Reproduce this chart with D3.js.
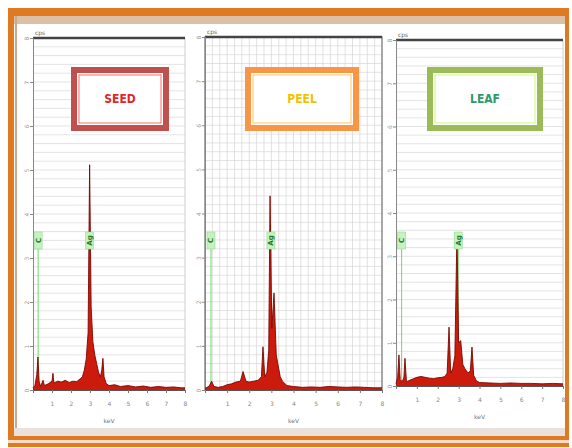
<!DOCTYPE html>
<html>
<head>
<meta charset="utf-8">
<script src="https://cdn.jsdelivr.net/npm/d3@7"></script>
<style>
  body { margin: 0; background: #fff; }
  svg { display: block; }
</style>
</head>
<body>
<svg width="572" height="448"></svg>
<script>
// spectra (energy in keV, counts in kcps)
var seedKeV = [0, 0.1, 0.2, 0.26, 0.32, 0.4, 0.53, 0.6, 0.8, 1.0, 1.05, 1.1, 1.3, 1.5, 1.7, 1.9, 2.1, 2.3, 2.5, 2.6, 2.7, 2.8, 2.9, 2.98, 3.06, 3.15, 3.25, 3.35, 3.45, 3.55, 3.62, 3.68, 3.74, 3.85, 4.0, 4.3, 4.6, 5.0, 5.4, 5.8, 6.2, 6.6, 7.0, 7.4, 7.8, 8.0];
var seedCounts = [0.05, 0.1, 0.35, 0.75, 0.2, 0.08, 0.22, 0.1, 0.14, 0.2, 0.38, 0.16, 0.2, 0.18, 0.22, 0.17, 0.2, 0.19, 0.26, 0.3, 0.45, 0.7, 1.3, 5.12, 1.9, 1.1, 0.8, 0.6, 0.4, 0.3, 0.45, 0.72, 0.3, 0.15, 0.1, 0.12, 0.08, 0.1, 0.07, 0.09, 0.06, 0.08, 0.06, 0.07, 0.05, 0.05];

var peelKeV = [0, 0.1, 0.2, 0.3, 0.4, 0.6, 0.8, 1.0, 1.2, 1.4, 1.6, 1.72, 1.85, 2.0, 2.2, 2.4, 2.55, 2.62, 2.7, 2.8, 2.88, 2.94, 3.02, 3.12, 3.22, 3.3, 3.4, 3.5, 3.7, 4.0, 4.4, 4.8, 5.2, 5.6, 6.0, 6.4, 6.8, 7.2, 7.6, 8.0];
var peelCounts = [0.04, 0.06, 0.1, 0.2, 0.08, 0.06, 0.08, 0.12, 0.14, 0.18, 0.2, 0.42, 0.2, 0.18, 0.2, 0.22, 0.3, 0.98, 0.3, 0.4, 0.9, 4.4, 1.4, 2.2, 0.8, 0.57, 0.3, 0.2, 0.1, 0.08, 0.06, 0.07, 0.06, 0.08, 0.07, 0.06, 0.07, 0.06, 0.05, 0.05];

var leafKeV = [0, 0.08, 0.14, 0.2, 0.3, 0.38, 0.43, 0.5, 0.6, 0.8, 1.0, 1.2, 1.4, 1.6, 1.8, 2.0, 2.2, 2.35, 2.45, 2.54, 2.62, 2.72, 2.82, 2.92, 3.0, 3.1, 3.2, 3.3, 3.45, 3.56, 3.64, 3.72, 3.85, 4.0, 4.5, 5.0, 5.5, 6.0, 6.5, 7.0, 7.5, 8.0];
var leafCounts = [0.05, 0.2, 0.72, 0.15, 0.1, 0.2, 0.64, 0.1, 0.12, 0.16, 0.2, 0.22, 0.2, 0.18, 0.17, 0.19, 0.2, 0.22, 0.3, 1.36, 0.3, 0.4, 0.7, 3.56, 1.0, 1.05, 0.5, 0.4, 0.3, 0.35, 0.9, 0.25, 0.12, 0.08, 0.07, 0.06, 0.07, 0.06, 0.06, 0.05, 0.06, 0.05];

var sampleNames = ["SEED", "PEEL", "LEAF"];
var markerNames = ["C", "Ag"];
var markerKeV = [0.27, 2.98];
var xTicks = [0, 1, 2, 3, 4, 5, 6, 7, 8];
var yTicks = [0, 1, 2, 3, 4, 5, 6, 7, 8];

var svg = d3.select("svg");

// outer orange frame
svg.append("rect").attr("x", 8).attr("y", 8).attr("width", 561).attr("height", 8).attr("fill", "#e07a22");
svg.append("rect").attr("x", 14).attr("y", 16).attr("width", 552).attr("height", 8).attr("fill", "#dcc0a6");
svg.append("rect").attr("x", 8).attr("y", 8).attr("width", 6).attr("height", 436).attr("fill", "#e07a22");
svg.append("rect").attr("x", 15).attr("y", 16).attr("width", 2).attr("height", 420).attr("fill", "#c9a98e");
svg.append("rect").attr("x", 565).attr("y", 8).attr("width", 4).attr("height", 436).attr("fill", "#e07a22");
svg.append("rect").attr("x", 14).attr("y", 428).attr("width", 551).attr("height", 8).attr("fill", "#e9e2dc");
svg.append("rect").attr("x", 8).attr("y", 436).attr("width", 561).attr("height", 4).attr("fill", "#e07a22");
svg.append("rect").attr("x", 8).attr("y", 440).attr("width", 561).attr("height", 3).attr("fill", "#f6dcc4");
svg.append("rect").attr("x", 8).attr("y", 443).attr("width", 561).attr("height", 4).attr("fill", "#e07a22");

var panels = [
  {keV: seedKeV, counts: seedCounts, left: 33, right: 185, top: 38, bottom: 390,
   box: [74, 70, 92, 58], boxColor: "#c0504d", textColor: "#e02828", frame: false, vgrid: false},
  {keV: peelKeV, counts: peelCounts, left: 205, right: 382, top: 37, bottom: 390,
   box: [248, 70, 108, 58], boxColor: "#f79646", textColor: "#f2c200", frame: true, vgrid: true},
  {keV: leafKeV, counts: leafCounts, left: 396, right: 563, top: 40, bottom: 386,
   box: [430, 70, 110, 58], boxColor: "#9bbb59", textColor: "#2f9a6a", frame: false, vgrid: false}
];

panels.forEach(function(p, i) {
  var x = d3.scaleLinear().domain([0, 8]).range([p.left, p.right]);
  var y = d3.scaleLinear().domain([0, 8]).range([p.bottom, p.top]);
  var g = svg.append("g");

  // horizontal grid every 0.2
  g.append("g").selectAll("line")
    .data(d3.range(0, 8.01, 0.2))
    .enter().append("line")
      .attr("x1", p.left).attr("x2", p.right)
      .attr("y1", function(d) { return y(d); })
      .attr("y2", function(d) { return y(d); })
      .attr("stroke", "#d8d8d8").attr("stroke-width", 0.7);

  // vertical grid only on the middle panel
  if (p.vgrid) {
    g.append("g").selectAll("line")
      .data(d3.range(0, 8.01, 1 / 3))
      .enter().append("line")
        .attr("x1", function(d) { return x(d); })
        .attr("x2", function(d) { return x(d); })
        .attr("y1", p.top).attr("y2", p.bottom)
        .attr("stroke", "#d4d4d4").attr("stroke-width", 0.7);
  }

  if (p.frame) {
    g.append("rect")
      .attr("x", p.left).attr("y", p.top)
      .attr("width", p.right - p.left).attr("height", p.bottom - p.top)
      .attr("fill", "none").attr("stroke", "#777").attr("stroke-width", 1.2);
  } else {
    g.append("line")
      .attr("x1", p.right).attr("x2", p.right).attr("y1", p.top).attr("y2", p.bottom)
      .attr("stroke", "#cfcfcf");
  }

  // thick line on top + small unit label
  g.append("line")
    .attr("x1", p.left).attr("x2", p.right).attr("y1", p.top).attr("y2", p.top)
    .attr("stroke", "#444").attr("stroke-width", 2.5);
  g.append("text")
    .attr("x", p.left + 2).attr("y", p.top - 3)
    .style("font", "6px 'DejaVu Sans'").attr("fill", "#666")
    .text("cps");

  // y axis
  var yAxis = g.append("g")
    .attr("transform", "translate(" + p.left + ",0)")
    .call(d3.axisLeft(y).tickValues(yTicks).tickSize(3).tickFormat(d3.format("d")));
  yAxis.select(".domain").attr("stroke", "#888");
  yAxis.selectAll(".tick line").attr("stroke", "#888");
  yAxis.selectAll("text")
    .style("font", "6px 'DejaVu Sans'").attr("fill", "#999")
    .attr("transform", "rotate(-90)").attr("x", 0).attr("dy", "0.3em")
    .attr("y", -6).style("text-anchor", "middle");

  // x axis
  var xAxis = g.append("g")
    .attr("transform", "translate(0," + p.bottom + ")")
    .call(d3.axisBottom(x).tickValues(xTicks).tickSize(3).tickFormat(function(d) { return d === 0 ? "" : d; }));
  xAxis.select(".domain").attr("stroke", "#555");
  xAxis.selectAll(".tick line").attr("stroke", "#777");
  xAxis.selectAll("text").style("font", "6px 'DejaVu Sans'").attr("fill", "#888").attr("y", 12);

  g.append("text")
    .attr("x", (p.left + p.right) / 2).attr("y", p.bottom + 33)
    .attr("text-anchor", "middle")
    .style("font", "6px 'DejaVu Sans'").attr("fill", "#777")
    .text("keV");

  // element marker lines
  markerKeV.forEach(function(k, j) {
    g.append("line")
      .attr("x1", x(k)).attr("x2", x(k))
      .attr("y1", 240).attr("y2", p.bottom)
      .attr("stroke", "#6fd86f").attr("stroke-width", 1);
  });

  // spectrum
  var pts = p.keV.map(function(k, j) { return [k, p.counts[j]]; });
  var area = d3.area()
    .x(function(d) { return x(d[0]); })
    .y0(y(0))
    .y1(function(d) { return y(d[1]); });
  var line = d3.line()
    .x(function(d) { return x(d[0]); })
    .y(function(d) { return y(d[1]); });
  g.append("path").datum(pts).attr("d", area).attr("fill", "#cc1a0c");
  g.append("path").datum(pts).attr("d", line)
    .attr("fill", "none").attr("stroke", "#7a0800").attr("stroke-width", 0.9);

  // element marker labels
  markerKeV.forEach(function(k, j) {
    g.append("rect")
      .attr("x", x(k) - 4).attr("y", 232).attr("width", 8).attr("height", 17)
      .attr("fill", "#c6f2c0").attr("stroke", "#8fdc8f").attr("stroke-width", 0.6);
    g.append("text")
      .attr("transform", "translate(" + (x(k) + 2.5) + ",240.5) rotate(-90)")
      .attr("text-anchor", "middle")
      .style("font", "bold 7px 'DejaVu Sans'").attr("fill", "#1f7a2a")
      .text(markerNames[j]);
  });

  // sample name box
  var b = p.box;
  g.append("rect")
    .attr("x", b[0]).attr("y", b[1]).attr("width", b[2]).attr("height", b[3])
    .attr("fill", "#fff").attr("stroke", p.boxColor).attr("stroke-width", 6);
  g.append("rect")
    .attr("x", b[0] + 5).attr("y", b[1] + 5).attr("width", b[2] - 10).attr("height", b[3] - 10)
    .attr("fill", "none").attr("stroke", d3.color(p.boxColor).brighter(0.8)).attr("stroke-width", 1);
  g.append("text")
    .attr("x", b[0] + b[2] / 2).attr("y", b[1] + b[3] / 2 + 4)
    .attr("text-anchor", "middle")
    .style("font", "bold 12px 'DejaVu Sans Condensed', 'Liberation Sans Narrow', sans-serif")
    .attr("fill", p.textColor)
    .text(sampleNames[i]);
});
</script>
</body>
</html>
